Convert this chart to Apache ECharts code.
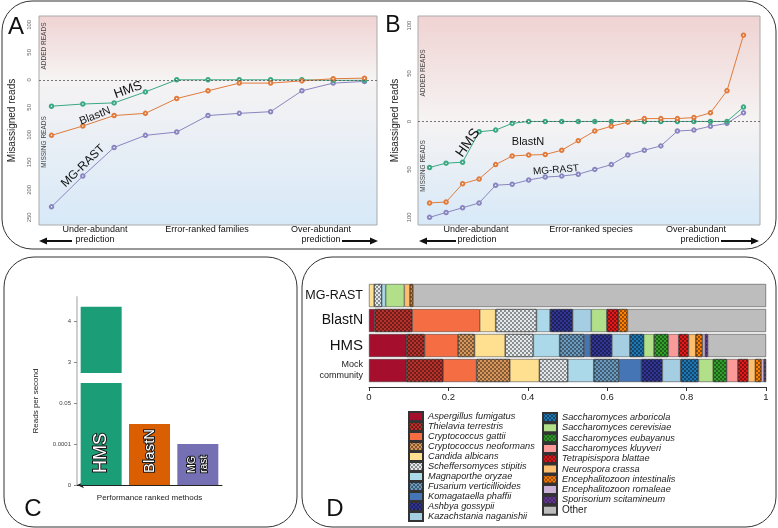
<!DOCTYPE html>
<html>
<head>
<meta charset="utf-8">
<script src="https://cdn.jsdelivr.net/npm/echarts@6/dist/echarts.min.js"></script>
<style>
html, body { margin: 0; padding: 0; background: #fff; }
#main { width: 778px; height: 528px; }
</style>
</head>
<body>
<div id="main"></div>
<script>
// A: error-ranked families (negative = missing reads, positive = added reads)
let familyHms = [-48, -44, -42, -22, 0, 0, 0, 0, 0, -1, -1]
let familyBlastn = [-101, -84, -65, -61, -34, -20, -6, -6, -2, 2, 3]
let familyMgrast = [-231, -175, -123, -101, -95, -65, -61, -58, -20, -6, -3]
let familyTicks = [100, 50, 0, -50, -100, -150, -200, -250]

// B: error-ranked species
let speciesHms = [-48, -43.5, -42.5, -10.8, -9, -2, 0, 0, 0, 0, 0, 0, 0, 0, 0, 0, 0, 0, 0, 15]
let speciesBlastn = [-85, -84, -65, -60, -45, -36, -35, -34.5, -30, -20, -10, -5, -0.7, 3, 3, 3, 4, 9, 32, 90]
let speciesMgrast = [-100, -95, -90, -85, -66.5, -65.5, -61, -58, -57, -55, -50, -45, -35, -30, -25.5, -10, -9, -5, -2, 9]
let speciesTicks = [100, 50, 0, -50, -100]

// C: speed, on a broken axis whose ticks are evenly spaced
let methods = ["HMS", "BlastN", "MG\nrast"]
let speedTickLabels = ["0", "0.0001", "0.05", "3", "4"]
let speedHeights = [4.35, 1.49, 1.0]
let speedBreak = [2.49, 2.73]

// D: share of reads per species
let communityRows = ["MG-RAST", "BlastN", "HMS", "Mock community"]
let speciesNames = [
	"Aspergillus fumigatus", "Thielavia terrestris", "Cryptococcus gattii", "Cryptococcus neoformans",
	"Candida albicans", "Scheffersomyces stipitis", "Magnaporthe oryzae", "Fusarium verticillioides",
	"Komagataella phaffii", "Ashbya gossypii", "Kazachstania naganishii",
	"Saccharomyces arboricola", "Saccharomyces cerevisiae", "Saccharomyces eubayanus", "Saccharomyces kluyveri",
	"Tetrapisispora blattae", "Neurospora crassa", "Encephalitozoon intestinalis", "Encephalitozoon romaleae",
	"Sporisorium scitamineum", "Other"
]
let mgrastShare = [0, 0, 0, 0, 0.013, 0.019, 0.010, 0, 0, 0, 0, 0, 0.047, 0, 0, 0, 0.014, 0.008, 0, 0, 0.889]
let blastnShare = [0.014, 0.095, 0.170, 0, 0.040, 0.103, 0.034, 0, 0, 0.057, 0.047, 0, 0.039, 0, 0, 0.029, 0, 0.023, 0, 0, 0.349]
let hmsShare = [0.094, 0.046, 0.084, 0.042, 0.077, 0.071, 0.066, 0.062, 0.016, 0.054, 0.045, 0.035, 0.026, 0.036, 0.026, 0.025, 0.018, 0.017, 0.007, 0.006, 0.147]
let mockShare = [0.094, 0.093, 0.084, 0.084, 0.074, 0.072, 0.065, 0.064, 0.056, 0.053, 0.046, 0.045, 0.037, 0.034, 0.028, 0.026, 0.018, 0.015, 0.007, 0.005, 0]

let speciesColors = [
	"#a50f2d", "#b8312b", "#f46d43", "#d9965a", "#fee090", "#e6e9ea", "#abd9e9", "#6a9bbf",
	"#4575b4", "#313695", "#a6cee3", "#1f78b4", "#b2df8a", "#33a02c", "#fb9a99", "#e31a1c",
	"#fdbf6f", "#ff7f00", "#cab2d6", "#6a3d9a", "#bdbdbd"
]
let lineColors = ["#3aa882", "#e07b3c", "#8985c0"]
let barColors = ["#1b9e77", "#d95f02", "#7570b3"]

let font = "Liberation Sans, Arial, sans-serif"
let chart = echarts.init(document.getElementById("main"))

function gradient(zeroAt) {
	return {
		type: "linear", x: 0, y: 0, x2: 0, y2: 1,
		colorStops: [
			{offset: 0, color: "#efd3d2"},
			{offset: zeroAt, color: "#f6f3f3"},
			{offset: 1, color: "#d7e9f8"}
		]
	}
}

function lineSeries(values, color, axis, zeroLine) {
	let s = {
		type: "line",
		xAxisIndex: axis,
		yAxisIndex: axis,
		data: values.map(function (v, i) {
			return [i + 1, v]
		}),
		symbol: "emptyCircle",
		symbolSize: 3.5,
		lineStyle: {color: color, width: 1},
		itemStyle: {color: color, borderWidth: 1},
		z: 3
	}
	if (zeroLine) {
		s.markLine = {
			silent: true,
			symbol: "none",
			label: {show: false},
			lineStyle: {type: [2, 2], color: "#555", width: 0.8},
			data: [{yAxis: 0}]
		}
	}
	return s
}

function missingAxis(index, min, max, ticks, gap, margin) {
	return {
		gridIndex: index,
		type: "value",
		min: min,
		max: max,
		splitLine: {show: false},
		axisLine: {show: false},
		axisTick: {show: false},
		axisLabel: {
			customValues: ticks,
			rotate: 90,
			fontSize: 6,
			color: "#666",
			margin: margin,
			fontFamily: font,
			formatter: function (v) {
				return String(Math.abs(v))
			}
		},
		name: "Misassigned reads",
		nameLocation: "middle",
		nameGap: gap,
		nameTextStyle: {fontSize: 10, color: "#222", fontFamily: font}
	}
}

function text(str, x, y, size, opts) {
	opts = opts || {}
	return {
		type: "text",
		x: x,
		y: y,
		rotation: opts.rotation || 0,
		silent: true,
		z: 50,
		style: {
			text: str,
			font: size + "px " + font,
			fill: opts.color || "#111",
			textAlign: "center",
			align: "center",
			textVerticalAlign: "middle",
			verticalAlign: "middle"
		}
	}
}

function arrow(x1, x2, y) {
	// arrow head sits at x2
	let dir = x2 > x1 ? 1 : -1
	return [
		{type: "line", silent: true, shape: {x1: x1, y1: y, x2: x2 - dir * 6, y2: y}, style: {stroke: "#111", lineWidth: 2}},
		{type: "polygon", silent: true, shape: {points: [[x2, y], [x2 - dir * 8, y - 3.5], [x2 - dir * 8, y + 3.5]]}, style: {fill: "#111"}}
	]
}

function panel(x, y, w, h) {
	return {type: "rect", silent: true, z: 0, shape: {x: x, y: y, width: w, height: h, r: 30}, style: {fill: null, stroke: "#333", lineWidth: 1}}
}

let checker = {
	symbol: "rect",
	symbolSize: 1,
	dashArrayX: [[2, 2], [0, 2, 2, 0]],
	dashArrayY: [2, 0],
	color: "rgba(0,0,0,0.4)"
}

let series = []

series.push(lineSeries(familyMgrast, lineColors[2], 0, true))
series.push(lineSeries(familyHms, lineColors[0], 0, false))
series.push(lineSeries(familyBlastn, lineColors[1], 0, false))
series.push(lineSeries(speciesMgrast, lineColors[2], 1, true))
series.push(lineSeries(speciesHms, lineColors[0], 1, false))
series.push(lineSeries(speciesBlastn, lineColors[1], 1, false))

// C: stacked pieces so the tall bar can show the axis break
let sizes = [18, 15, 10.5]
series.push({
	type: "bar", stack: "speed", xAxisIndex: 2, yAxisIndex: 2, barWidth: 41,
	data: speedHeights.map(function (v, i) {
		return {
			value: Math.min(v, speedBreak[0]),
			itemStyle: {color: barColors[i]},
			label: {fontSize: sizes[i]}
		}
	}),
	label: {
		show: true,
		position: "insideBottom",
		distance: 12,
		rotate: 90,
		align: "left",
		verticalAlign: "middle",
		color: "#fff",
		textBorderColor: "#1a1a1a",
		textBorderWidth: 2,
		fontFamily: font,
		lineHeight: 12,
		formatter: function (p) {
			return methods[p.dataIndex]
		}
	}
})
series.push({
	type: "bar", stack: "speed", xAxisIndex: 2, yAxisIndex: 2, barWidth: 41,
	data: speedHeights.map(function (v) {
		return v > speedBreak[1] ? speedBreak[1] - speedBreak[0] : 0
	}),
	itemStyle: {color: "rgba(0,0,0,0)"}
})
series.push({
	type: "bar", stack: "speed", xAxisIndex: 2, yAxisIndex: 2, barWidth: 41,
	data: speedHeights.map(function (v, i) {
		return {value: v > speedBreak[1] ? v - speedBreak[1] : 0, itemStyle: {color: barColors[i]}}
	})
})

// D: one stacked series per species, every second one hatched
speciesNames.forEach(function (name, i) {
	let style = {color: speciesColors[i], borderColor: "#333", borderWidth: 0.5}
	if ((i < 10 && i % 2 === 1) || (i >= 11 && i < 20 && i % 2 === 1)) style.decal = checker
	if (i === 5) style.decal = Object.assign({}, checker, {color: "rgba(60,70,75,0.55)"})
	series.push({
		name: name,
		type: "bar",
		stack: "share",
		xAxisIndex: 3,
		yAxisIndex: 3,
		barWidth: 23,
		data: [mgrastShare[i], blastnShare[i], hmsShare[i], mockShare[i]].map(function (v) {
			return v > 0 ? v : null
		}),
		itemStyle: style
	})
})

function legendData(names) {
	return names.map(function (n) {
		if (n === "Other") return {name: n, textStyle: {fontStyle: "normal", fontSize: 10}}
		return n
	})
}

let graphics = [
	panel(2, 1, 774, 248),
	panel(4, 257, 293, 270),
	panel(302, 257, 474, 270),
	text("A", 16, 27, 24),
	text("B", 393, 26, 23),
	text("C", 33, 509, 24),
	text("D", 335, 509, 24),
	text("ADDED READS", 44, 46, 6.5, {rotation: Math.PI / 2, color: "#444"}),
	text("MISSING READS", 44, 142, 6.5, {rotation: Math.PI / 2, color: "#444"}),
	text("ADDED READS", 423, 73, 6.5, {rotation: Math.PI / 2, color: "#444"}),
	text("MISSING READS", 423, 166, 6.5, {rotation: Math.PI / 2, color: "#444"}),
	text("HMS", 128, 90, 13, {rotation: 0.35}),
	text("BlastN", 95, 116, 11, {rotation: 0.37}),
	text("MG-RAST", 83, 166, 12, {rotation: 0.77}),
	text("HMS", 468, 143, 14, {rotation: 0.96}),
	text("BlastN", 528, 142, 11),
	text("MG-RAST", 556, 170, 10, {rotation: 0.08}),
	text("Under-abundant", 95, 230, 9),
	text("prediction", 95, 240, 9),
	text("Error-ranked families", 207, 230, 9),
	text("Over-abundant", 321, 230, 9),
	text("prediction", 321, 240, 9),
	text("Under-abundant", 476, 230, 9),
	text("prediction", 477, 240, 9),
	text("Error-ranked species", 591, 230, 9),
	text("Over-abundant", 696, 230, 9),
	text("prediction", 700, 240, 9)
].concat(arrow(72, 39, 241), arrow(342, 378, 241), arrow(456, 419, 241), arrow(721, 759, 241))

let option = {
	animation: false,
	textStyle: {fontFamily: font},
	grid: [
		{left: 39, top: 16, width: 338, height: 209, show: true, backgroundColor: gradient(0.30), borderColor: "#aaa", borderWidth: 1},
		{left: 418, top: 16, width: 342, height: 209, show: true, backgroundColor: gradient(0.50), borderColor: "#aaa", borderWidth: 1},
		{left: 77, top: 297, width: 145, height: 188},
		{left: 369, top: 283, width: 397, height: 100}
	],
	xAxis: [
		{gridIndex: 0, type: "value", min: 0.6, max: 11.4, show: false},
		{gridIndex: 1, type: "value", min: 0.3, max: 21, show: false},
		{
			gridIndex: 2, type: "category", data: methods, offset: 6,
			axisLine: {show: true, symbol: ["arrow", "none"], symbolSize: [5, 7], lineStyle: {color: "#222", width: 1}},
			axisTick: {show: false},
			axisLabel: {show: false},
			name: "Performance ranked methods", nameLocation: "middle", nameGap: 3,
			nameTextStyle: {fontSize: 8, color: "#222", fontFamily: font, verticalAlign: "top"}
		},
		{
			gridIndex: 3, type: "value", min: 0, max: 1, interval: 0.2, offset: 4,
			splitLine: {show: false},
			axisLine: {show: true, lineStyle: {color: "#333"}},
			axisTick: {show: true, length: 4, lineStyle: {color: "#333"}},
			axisLabel: {fontSize: 9.5, color: "#222", margin: 5}
		}
	],
	yAxis: [
		missingAxis(0, -264, 116, familyTicks, 22, 7),
		missingAxis(1, -108, 110, speciesTicks, 18, 6),
		{
			gridIndex: 2, type: "value", min: 0, max: 4.585,
			splitLine: {show: false},
			axisLine: {show: true, lineStyle: {color: "#cfcfcf", width: 2}},
			axisTick: {show: true, customValues: [0, 1, 2, 3, 4], length: 3, lineStyle: {color: "#888"}},
			axisLabel: {
				customValues: [0, 1, 2, 3, 4], fontSize: 6, color: "#444", margin: 6,
				formatter: function (v) {
					return speedTickLabels[Math.round(v)]
				}
			},
			name: "Reads per second", nameLocation: "middle", nameGap: 37,
			nameTextStyle: {fontSize: 8, color: "#222", fontFamily: font, padding: [0, 0, 0, -20]}
		},
		{
			gridIndex: 3, type: "category", inverse: true, data: communityRows,
			axisLine: {show: false},
			axisTick: {show: false},
			axisLabel: {
				margin: 6,
				formatter: function (v) {
					if (v === "Mock community") return "{s|Mock}\n{s|community}"
					if (v === "MG-RAST") return "{m|MG-RAST}"
					if (v === "HMS") return "{h|HMS}"
					return "{b|" + v + "}"
				},
				rich: {
					s: {fontSize: 9, color: "#222", align: "right", lineHeight: 11},
					m: {fontSize: 12.5, color: "#111"},
					b: {fontSize: 14, color: "#111"},
					h: {fontSize: 15, color: "#111"}
				}
			}
		}
	],
	legend: [
		{
			data: legendData(speciesNames.slice(0, 11)),
			left: 403, top: 406, height: 125, orient: "vertical", icon: "rect",
			itemWidth: 14, itemHeight: 9, itemGap: -1.0, selectedMode: false,
			textStyle: {fontSize: 9.2, fontStyle: "italic", color: "#222", lineHeight: 9}
		},
		{
			data: legendData(speciesNames.slice(11)),
			left: 537, top: 407, height: 125, orient: "vertical", icon: "rect",
			itemWidth: 14, itemHeight: 9, itemGap: -0.7, selectedMode: false,
			textStyle: {fontSize: 9.2, fontStyle: "italic", color: "#222", lineHeight: 9}
		}
	],
	graphic: {elements: graphics},
	series: series
}

chart.setOption(option)
</script>
</body>
</html>
